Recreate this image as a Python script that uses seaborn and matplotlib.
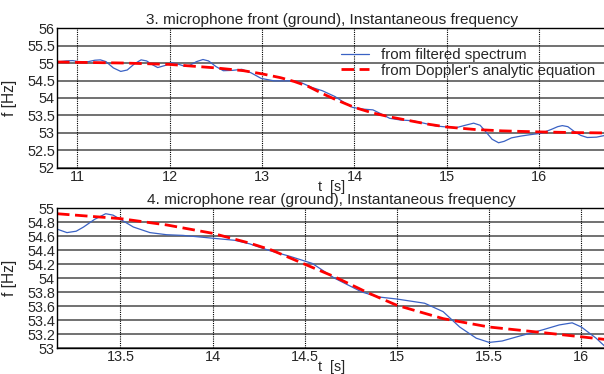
import numpy as np
import pandas as pd
import matplotlib
matplotlib.use('Agg')
import matplotlib.pyplot as plt
import seaborn as sns

# microphone 3 (front)
t_front_spec = [10.78, 10.88, 10.95, 11.03, 11.12, 11.19, 11.25, 11.31, 11.39, 11.47, 11.54,
                11.62, 11.69, 11.75, 11.82, 11.87, 11.95, 12.02, 12.10, 12.16, 12.22,
                12.29, 12.36, 12.42, 12.50, 12.58, 12.68, 12.78, 12.88, 12.99, 13.13,
                13.25, 13.35, 13.44, 13.54, 13.65, 13.79, 13.90, 13.98, 14.10, 14.20,
                14.30, 14.38, 14.50, 14.63, 14.75, 14.88, 15.00, 15.10, 15.20, 15.29,
                15.36, 15.42, 15.49, 15.56, 15.62, 15.70, 15.80, 15.90, 16.02, 16.13,
                16.20, 16.25, 16.31, 16.38, 16.45, 16.52, 16.62, 16.73]
f_front_spec = [55.03, 55.06, 55.07, 55.03, 55.04, 55.08, 55.09, 55.04, 54.86, 54.76, 54.80,
                54.98, 55.09, 55.06, 54.94, 54.87, 54.93, 55.01, 54.96, 54.91, 54.94,
                55.04, 55.10, 55.06, 54.90, 54.78, 54.79, 54.82, 54.72, 54.56, 54.49,
                54.49, 54.49, 54.42, 54.30, 54.21, 54.04, 53.85, 53.73, 53.68, 53.66,
                53.53, 53.42, 53.37, 53.35, 53.28, 53.20, 53.17, 53.15, 53.22, 53.28,
                53.22, 53.04, 52.82, 52.72, 52.76, 52.86, 52.91, 52.95, 52.99, 53.10,
                53.18, 53.21, 53.18, 53.04, 52.93, 52.87, 52.88, 52.94]
t_front_dop = [10.78, 11.0, 11.5, 12.0, 12.5, 12.8, 13.0, 13.2, 13.35, 13.5, 13.65, 13.8,
               14.0, 14.2, 14.4, 14.6, 14.8, 15.0, 15.3, 15.6, 16.0, 16.4, 16.73]
f_front_dop = [55.03, 55.02, 55.00, 54.96, 54.86, 54.78, 54.69, 54.58, 54.47, 54.33, 54.13, 53.95,
               53.73, 53.57, 53.45, 53.35, 53.25, 53.17, 53.10, 53.06, 53.03, 53.01, 53.00]

# microphone 4 (rear)
t_rear_spec = [13.156, 13.21, 13.26, 13.30, 13.36, 13.42, 13.46, 13.50, 13.57, 13.66,
               13.75, 13.84, 14.00, 14.12, 14.20, 14.30, 14.42, 14.54, 14.66, 14.81,
               14.90, 15.00, 15.15, 15.25, 15.34, 15.43, 15.50, 15.57, 15.65, 15.79,
               15.88, 15.95, 16.00, 16.08, 16.137]
f_rear_spec = [54.70, 54.65, 54.67, 54.73, 54.84, 54.92, 54.90, 54.84, 54.73, 54.65,
               54.62, 54.61, 54.57, 54.54, 54.49, 54.40, 54.31, 54.21, 54.00, 53.80,
               53.73, 53.70, 53.64, 53.52, 53.30, 53.14, 53.08, 53.10, 53.16, 53.26,
               53.33, 53.36, 53.30, 53.14, 53.00]
t_rear_dop = [13.156, 13.5, 13.75, 14.0, 14.2, 14.32, 14.48, 14.66, 14.85, 15.0,
              15.25, 15.5, 15.79, 16.0, 16.137]
f_rear_dop = [54.92, 54.85, 54.76, 54.64, 54.50, 54.40, 54.22, 54.02, 53.78, 53.61,
              53.42, 53.30, 53.22, 53.16, 53.12]

sns.set_style('white')
plt.rcParams['font.family'] = ['Liberation Sans', 'DejaVu Sans']
plt.rcParams['font.size'] = 10.4

fig = plt.figure(figsize=(6.04, 3.74), dpi=100)
ax1 = fig.add_axes([0.0944, 0.551, 0.91, 0.374])
ax2 = fig.add_axes([0.0944, 0.0695, 0.91, 0.374])

blue = '#3a62c4'


def draw(ax, ts, fs, td, fd, title, xlim, ylim, yticks, xticks, xlabels, legend):
    sns.lineplot(x=ts, y=fs, ax=ax, color=blue, lw=0.9, label='from filtered spectrum', sort=False)
    sns.lineplot(x=td, y=fd, ax=ax, color='red', lw=2, ls=(0, (4.5, 2)),
                 label="from Doppler's analytic equation", sort=False)
    ax.set_xlim(*xlim)
    ax.set_ylim(*ylim)
    ax.set_yticks(yticks)
    ax.set_yticklabels([('%g' % v) for v in yticks])
    ax.set_xticks(xticks)
    ax.set_xticklabels(xlabels)
    for y in yticks:
        ax.axhline(y, color='0.35', lw=1.2, zorder=0)
    for x in xticks:
        ax.axvline(x, color='black', lw=0.8, ls=(0, (1, 1)), zorder=0)
    for s in ax.spines.values():
        s.set_color('black')
        s.set_linewidth(1)
    ax.tick_params(length=0, pad=1.5, labelsize=10.4)
    ax.set_title(title, pad=3, fontsize=11.1)
    ax.set_xlabel('t  [s]', labelpad=-3, fontsize=10.3)
    ax.set_ylabel('f [Hz]', fontsize=11.2)
    ax.yaxis.set_label_coords(-0.072, 0.5)
    if legend:
        ax.legend(loc='upper left', bbox_to_anchor=(0.503, 0.91), frameon=False, fontsize=10.8,
                  handlelength=1.85, handletextpad=0.85, borderpad=0, labelspacing=0.1)
    else:
        ax.get_legend().remove()


draw(ax1, t_front_spec, f_front_spec, t_front_dop, f_front_dop,
     '3. microphone front (ground), Instantaneous frequency',
     (10.78, 16.73), (52, 56), [52, 52.5, 53, 53.5, 54, 54.5, 55, 55.5, 56],
     [11, 12, 13, 14, 15, 16], ['11', '12', '13', '14', '15', '16'], True)
draw(ax2, t_rear_spec, f_rear_spec, t_rear_dop, f_rear_dop,
     '4. microphone rear (ground), Instantaneous frequency',
     (13.156, 16.137), (53, 55), [53, 53.2, 53.4, 53.6, 53.8, 54, 54.2, 54.4, 54.6, 54.8, 55],
     [13.5, 14, 14.5, 15, 15.5, 16], ['13.5', '14', '14.5', '15', '15.5', '16'], False)

fig.savefig('out.png', dpi=100)
